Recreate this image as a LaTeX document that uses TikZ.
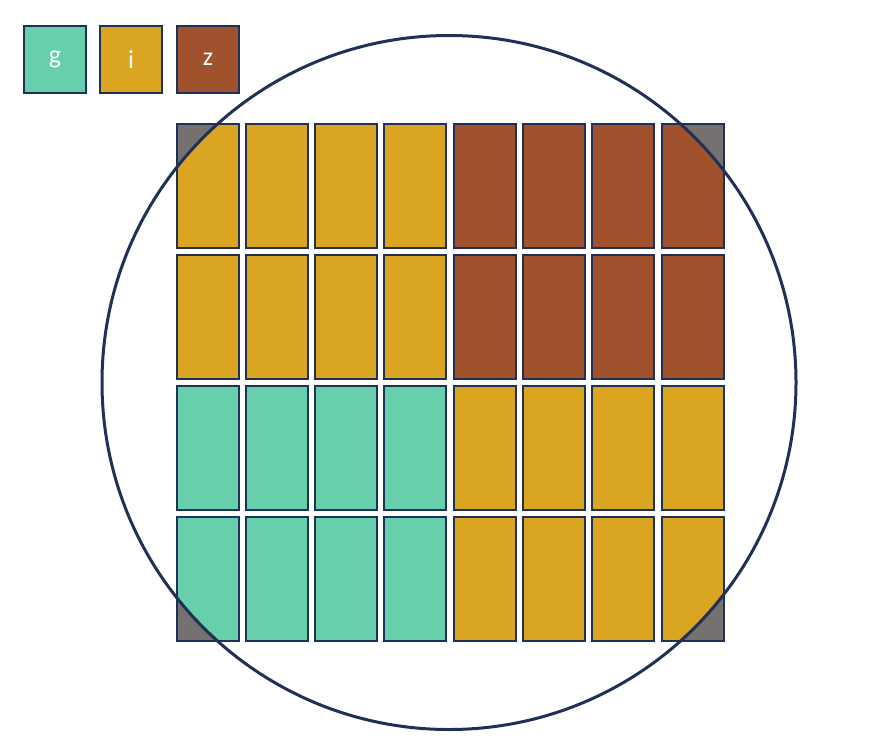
\documentclass[tikz,border=0pt]{standalone}
\usepackage{fontspec}
\setmainfont{Carlito}
\definecolor{cg}{HTML}{66CFAB}
\definecolor{ci}{HTML}{DAA520}
\definecolor{cz}{HTML}{A0522D}
\definecolor{cgrey}{HTML}{767171}
\definecolor{navy}{HTML}{1F3157}
\tikzset{
  legbox/.style={draw=navy, line width=1.5pt, minimum width=62pt, minimum height=67pt, inner sep=0pt, text=white, font=\fontsize{26}{30}\selectfont},
  cellborder/.style={draw=navy, line width=1.3pt},
}
\begin{document}
\begin{tikzpicture}[x=1pt,y=-1pt]
\useasboundingbox (0,0) rectangle (885,753);
\node[legbox, fill=cg] (lg) at (55,59.5) {g};
\node[legbox, fill=ci] (li) at (131,59.5) {i};
\node[legbox, fill=cz] (lz) at (208,59.5) {z};
\def\colx{{177,246,315,384,454,523,592,662}}
\def\rowy{{124,255,386,517}}
\foreach \r in {0,...,3}{
  \foreach \c in {0,...,7}{
    \pgfmathsetmacro{\xx}{\colx[\c]}
    \pgfmathsetmacro{\yy}{\rowy[\r]}
    \pgfmathtruncatemacro{\kind}{(\r<2 && \c<4) ? 1 : ((\r<2) ? 2 : ((\c<4) ? 0 : 1))}
    \ifcase\kind \def\fc{cg}\or \def\fc{ci}\or \def\fc{cz}\fi
    \fill[cgrey] (\xx,\yy) rectangle ++(62,124);
    \begin{scope}
      \clip (449,382.5) circle (347);
      \fill[\fc] (\xx,\yy) rectangle ++(62,124);
    \end{scope}
    \draw[cellborder] (\xx,\yy) rectangle ++(62,124);
  }
}
\node[draw=navy, line width=3pt, circle, minimum size=694pt, inner sep=0pt] (wafer) at (449,382.5) {};
\end{tikzpicture}
\end{document}
